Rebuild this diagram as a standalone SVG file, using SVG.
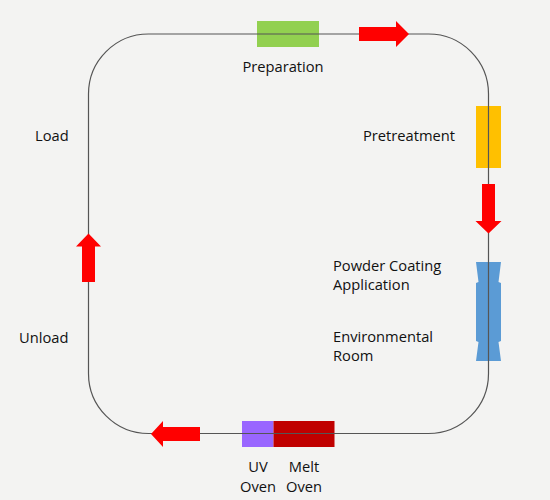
<svg xmlns="http://www.w3.org/2000/svg" width="550" height="500" viewBox="0 0 550 500">
<style>
text{font-family:"Open Sans","Noto Sans",sans-serif;font-size:14.7px;fill:#111}
.arrow{fill:#ff0000}
.loop{fill:none;stroke:#555;stroke-width:1.2}
</style>
<rect width="550" height="500" fill="#f3f3f2"/>
<g id="preparation"><rect x="257" y="21" width="62" height="26" fill="#92d050"/><text x="283" y="72" text-anchor="middle">Preparation</text></g>
<g id="pretreatment"><rect x="476" y="106" width="25" height="62" fill="#ffc000"/><text x="363" y="141">Pretreatment</text></g>
<g id="powder"><path d="M476,262 L501,262 L498.5,282 L501,283 L501,341 L498.5,342 L501,361 L476,361 L478.5,342 L476,341 L476,283 L478.5,282 Z" fill="#5b9bd5"/><text x="333" y="271">Powder Coating</text><text x="333" y="290">Application</text><text x="333" y="342">Environmental</text><text x="333" y="361">Room</text></g>
<g id="uvoven"><rect x="242" y="421" width="31.5" height="26" fill="#9966ff"/><text x="258" y="472" text-anchor="middle">UV</text><text x="258" y="492" text-anchor="middle">Oven</text></g>
<g id="meltoven"><rect x="273.5" y="421" width="61" height="26" fill="#c00000"/><text x="304" y="472" text-anchor="middle">Melt</text><text x="304" y="492" text-anchor="middle">Oven</text></g>
<g id="load"><text x="35" y="141">Load</text></g>
<g id="unload"><text x="19" y="343">Unload</text></g>
<g id="connectors">
<rect class="loop" x="88.5" y="34" width="400" height="399.5" rx="60" ry="60"/>
<path class="arrow" d="M359,27 L396,27 L396,21 L409,34 L396,47 L396,41 L359,41 Z"/>
<path class="arrow" d="M482,184 L495,184 L495,221 L501.5,221 L488.5,233.5 L475.5,221 L482,221 Z"/>
<path class="arrow" d="M200,427 L163,427 L163,421 L151,434 L163,447 L163,441 L200,441 Z"/>
<path class="arrow" d="M82,282 L82,246.5 L76,246.5 L88.5,233.5 L101,246.5 L95,246.5 L95,282 Z"/>
</g>
</svg>
